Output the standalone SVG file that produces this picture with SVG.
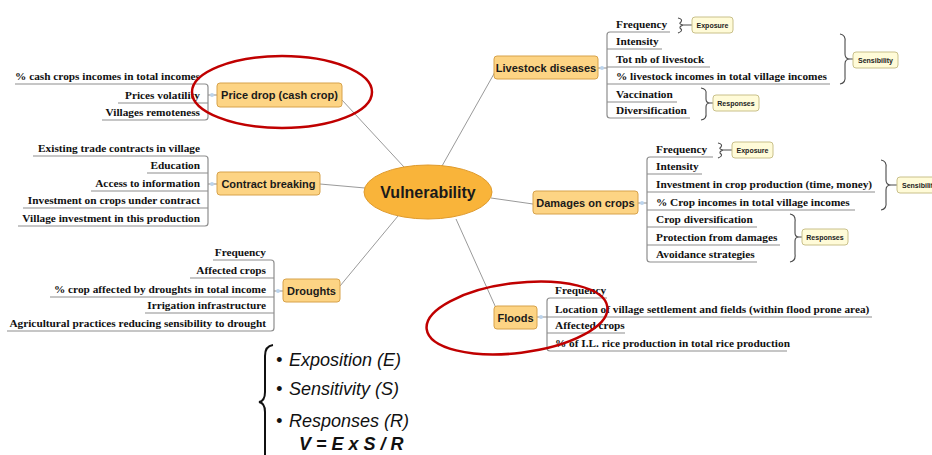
<svg xmlns="http://www.w3.org/2000/svg" width="932" height="455" viewBox="0 0 932 455">
  <style>
    .topic rect { fill: #FDD484; stroke: #D7A24A; stroke-width: 1; }
    .topic text { font-family: "Liberation Sans", Arial, sans-serif; font-weight: bold; font-size: 11px; fill: #1a1a1a; text-anchor: middle; }
    .item { font-family: "Liberation Serif", "Times New Roman", serif; font-weight: bold; font-size: 11.3px; fill: #111; }
    .left { text-anchor: end; }
    .tag rect { fill: #FFFBD8; stroke: #C9C08A; stroke-width: 1; }
    .tag text { font-family: "Liberation Sans", Arial, sans-serif; font-weight: bold; font-size: 7px; fill: #222; text-anchor: middle; }
    .spoke { stroke: #9a9a9a; stroke-width: 1; fill: none; }
    .rail { stroke: #8e8e8e; stroke-width: 1.2; fill: none; }
    .brace { stroke: #4a4a4a; stroke-width: 1.1; fill: none; }
    .dot { fill: #BCD4EC; }
    .ring { fill: none; stroke: #C00000; stroke-width: 2.5; }
    .legend { font-family: "Liberation Sans", Arial, sans-serif; font-style: italic; font-size: 18px; fill: #111; }
  </style>

  <rect width="932" height="455" fill="#ffffff"/>

  <!-- spokes and item rails -->
  <g id="connectors">
    <line class="spoke" x1="404" y1="167" x2="342" y2="100"/>
    <line class="spoke" x1="442" y1="166" x2="495" y2="72"/>
    <line class="spoke" x1="365" y1="188" x2="320" y2="184"/>
    <line class="spoke" x1="491" y1="198" x2="533" y2="204"/>
    <line class="spoke" x1="398" y1="216" x2="340" y2="286"/>
    <line class="spoke" x1="456" y1="219" x2="496" y2="308"/>

    <!-- Price drop rails -->
    <path class="rail" d="M15,84 H205 Q208,84 208,87 V117 Q208,120 205,120 H102 M118,103 H208 M208,95 H217"/>
    <!-- Contract breaking rails -->
    <path class="rail" d="M33,156 H205 Q208,156 208,159 V223 Q208,226 205,226 H18 M147,173 H208 M91,191 H208 M23,208 H208 M208,184 H217"/>
    <!-- Droughts rails -->
    <path class="rail" d="M213,260 H271 Q274,260 274,263 V328 Q274,331 271,331 H7 M190,278 H274 M50,297 H274 M145,313 H274 M274,291 H283"/>
    <!-- Livestock rails -->
    <path class="rail" d="M670,32 H610 Q607,32 607,35 V115 Q607,118 610,118 H690 M607,49 H662 M607,67 H710 M607,84 H830 M607,102 H677 M598,68 H607"/>
    <!-- Damages rails -->
    <path class="rail" d="M713,157 H650 Q647,157 647,160 V259 Q647,262 650,262 H757 M647,174 H702 M647,192 H875 M647,210 H855 M647,227 H757 M647,245 H780 M638,203 H647"/>
    <!-- Floods rails -->
    <path class="rail" d="M607,298 H550 Q547,298 547,301 V348 Q547,351 550,351 H787 M547,317 H872 M547,333 H625 M537,317 H547"/>

    <circle class="dot" cx="212" cy="95" r="2"/>
    <circle class="dot" cx="212" cy="184" r="2"/>
    <circle class="dot" cx="278" cy="291" r="2"/>
    <circle class="dot" cx="602" cy="68" r="2"/>
    <circle class="dot" cx="642" cy="203" r="2"/>
    <circle class="dot" cx="541" cy="317" r="2"/>

    <!-- grouping braces -->
    <path class="brace" d="M678,18 Q683,19 681,22 Q678,24 683,25 Q678,27 681,29 Q683,31 678,33 M683,25 H692"/>
    <path class="brace" d="M840,34 Q846,35 845,42 V54 Q845,59 850,59 Q845,59 845,64 V76 Q846,83 840,84 M850,59 H853"/>
    <path class="brace" d="M701,88 Q707,89 706,94 V99 Q706,103 710,103 Q706,103 706,107 V113 Q707,119 701,120 M710,103 H713"/>
    <path class="brace" d="M718,143 Q723,144 721,147 Q718,149 723,150 Q718,152 721,154 Q723,156 718,158 M723,150 H732"/>
    <path class="brace" d="M881,160 Q887,161 886,168 V180 Q886,185 891,185 Q886,185 886,190 V202 Q887,209 881,210 M891,185 H897"/>
    <path class="brace" d="M790,214 Q796,215 795,222 V233 Q795,237 799,237 Q795,237 795,241 V254 Q796,261 790,262 M799,237 H802"/>
  </g>

  <!-- central node -->
  <g id="vulnerability">
    <ellipse cx="428" cy="192" rx="64" ry="27" fill="#F9B43A" stroke="#DF9A2C" stroke-width="1"/>
    <text x="428" y="198" font-family="Liberation Sans, Arial, sans-serif" font-weight="bold" font-size="16" fill="#1a1a1a" text-anchor="middle">Vulnerability</text>
  </g>

  <g id="price-drop" class="topic">
    <rect x="217" y="83" width="125" height="24" rx="3"/>
    <text x="279.5" y="99">Price drop (cash crop)</text>
  </g>
  <g id="price-drop-items">
    <text class="item left" x="200" y="80">% cash crops incomes in total incomes</text>
    <text class="item left" x="200" y="99">Prices volatility</text>
    <text class="item left" x="200" y="116">Villages remoteness</text>
  </g>

  <g id="contract-breaking" class="topic">
    <rect x="217" y="172" width="103" height="23" rx="3"/>
    <text x="268.5" y="188">Contract breaking</text>
  </g>
  <g id="contract-breaking-items">
    <text class="item left" x="200" y="152">Existing trade contracts in village</text>
    <text class="item left" x="200" y="169">Education</text>
    <text class="item left" x="200" y="187">Access to information</text>
    <text class="item left" x="200" y="204">Investment on crops under contract</text>
    <text class="item left" x="200" y="222">Village investment in this production</text>
  </g>

  <g id="droughts" class="topic">
    <rect x="283" y="279" width="57" height="23" rx="3"/>
    <text x="311.5" y="295">Droughts</text>
  </g>
  <g id="droughts-items">
    <text class="item left" x="266" y="256">Frequency</text>
    <text class="item left" x="266" y="274">Affected crops</text>
    <text class="item left" x="266" y="293">% crop affected by droughts in total income</text>
    <text class="item left" x="266" y="309">Irrigation infrastructure</text>
    <text class="item left" x="266" y="327">Agricultural practices reducing sensibility to drought</text>
  </g>

  <g id="livestock-diseases" class="topic">
    <rect x="494" y="56" width="104" height="23" rx="3"/>
    <text x="546" y="72">Livestock diseases</text>
  </g>
  <g id="livestock-items">
    <text class="item" x="616" y="28">Frequency</text>
    <text class="item" x="616" y="45">Intensity</text>
    <text class="item" x="616" y="63">Tot nb of livestock</text>
    <text class="item" x="616" y="80">% livestock incomes in total village incomes</text>
    <text class="item" x="616" y="98">Vaccination</text>
    <text class="item" x="616" y="114">Diversification</text>
  </g>
  <g id="livestock-exposure" class="tag"><rect x="692" y="17" width="41" height="16" rx="3"/><text x="712.5" y="27.5">Exposure</text></g>
  <g id="livestock-sensibility" class="tag"><rect x="853" y="52" width="45" height="16" rx="3"/><text x="875.5" y="62.5">Sensibility</text></g>
  <g id="livestock-responses" class="tag"><rect x="713" y="95" width="46" height="16" rx="3"/><text x="736" y="105.5">Responses</text></g>

  <g id="damages-on-crops" class="topic">
    <rect x="533" y="191" width="105" height="23" rx="3"/>
    <text x="585.5" y="207">Damages on crops</text>
  </g>
  <g id="damages-items">
    <text class="item" x="656" y="153">Frequency</text>
    <text class="item" x="656" y="170">Intensity</text>
    <text class="item" x="656" y="188">Investment in crop production (time, money)</text>
    <text class="item" x="656" y="206">% Crop incomes in total village incomes</text>
    <text class="item" x="656" y="223">Crop diversification</text>
    <text class="item" x="656" y="241">Protection from damages</text>
    <text class="item" x="656" y="258">Avoidance strategies</text>
  </g>
  <g id="damages-exposure" class="tag"><rect x="732" y="142" width="41" height="16" rx="3"/><text x="752.5" y="152.5">Exposure</text></g>
  <g id="damages-sensibility" class="tag"><rect x="897" y="177" width="45" height="16" rx="3"/><text x="919.5" y="187.5">Sensibility</text></g>
  <g id="damages-responses" class="tag"><rect x="802" y="229" width="46" height="16" rx="3"/><text x="825" y="239.5">Responses</text></g>

  <g id="floods" class="topic">
    <rect x="494" y="306" width="43" height="23" rx="3"/>
    <text x="515.5" y="322">Floods</text>
  </g>
  <g id="floods-items">
    <text class="item" x="555" y="294">Frequency</text>
    <text class="item" x="555" y="313">Location of village settlement and fields (within flood prone area)</text>
    <text class="item" x="555" y="329">Affected crops</text>
    <text class="item" x="555" y="347">% of I.L. rice production in total rice production</text>
  </g>

  <!-- highlight rings -->
  <ellipse class="ring" cx="282" cy="92" rx="90" ry="36"/>
  <ellipse class="ring" cx="517" cy="318" rx="91" ry="35" transform="rotate(-7 517 318)"/>

  <!-- formula legend -->
  <g id="legend">
    <path d="M273,345 Q265,346 265,356 V392 Q265,401 259,402 Q265,403 265,412 V455" fill="none" stroke="#111" stroke-width="2"/>
    <text class="legend" x="276" y="366">•</text>
    <text class="legend" x="289" y="366">Exposition (E)</text>
    <text class="legend" x="276" y="395">•</text>
    <text class="legend" x="289" y="395">Sensitivity (S)</text>
    <text class="legend" x="276" y="427">•</text>
    <text class="legend" x="289" y="427">Responses (R)</text>
    <text class="legend" x="299" y="450" font-weight="bold">V = E x S / R</text>
  </g>
</svg>
